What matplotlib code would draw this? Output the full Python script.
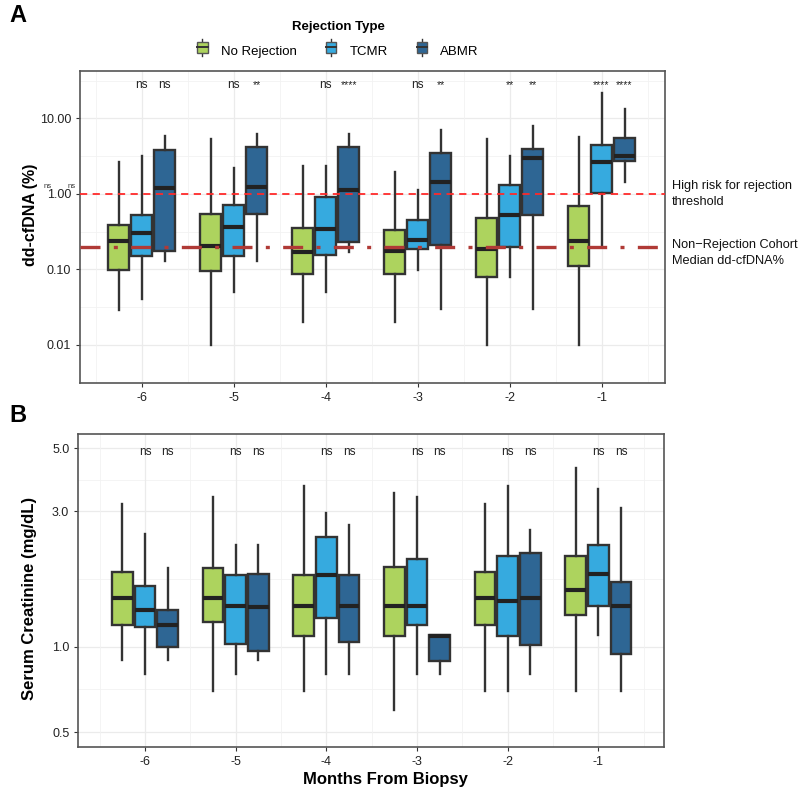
#!/usr/bin/env python
# dd-cfDNA and serum creatinine by month before biopsy, split by rejection type.
import numpy as np, matplotlib; matplotlib.use("Agg")
import matplotlib.pyplot as plt
from matplotlib.legend_handler import HandlerBase
from matplotlib.patches import Rectangle, Patch
from matplotlib.lines import Line2D

plt.rcParams["font.family"] = ["Liberation Sans", "DejaVu Sans"]

months = [-6, -5, -4, -3, -2, -1]
groups = ["No Rejection", "TCMR", "ABMR"]
colors = {"No Rejection": "#ADD35E", "TCMR": "#36AADF", "ABMR": "#2E6694"}

# (whisker low, q1, median, q3, whisker high) per month
cf_none = [(0.029, 0.097, 0.241, 0.384, 2.62), (0.010, 0.094, 0.202, 0.543, 5.35),
           (0.020, 0.088, 0.171, 0.355, 2.32), (0.020, 0.088, 0.177, 0.337, 1.93),
           (0.010, 0.079, 0.188, 0.485, 5.40), (0.010, 0.110, 0.236, 0.685, 5.69)]
cf_tcmr = [(0.040, 0.149, 0.304, 0.521, 3.22), (0.050, 0.149, 0.361, 0.706, 2.21),
           (0.050, 0.154, 0.344, 0.913, 2.32), (0.099, 0.188, 0.248, 0.457, 1.14),
           (0.080, 0.196, 0.527, 1.30, 3.15), (0.207, 1.03, 2.65, 4.50, 21.8)]
cf_abmr = [(0.131, 0.177, 1.20, 3.78, 5.92), (0.128, 0.543, 1.22, 4.14, 6.24),
           (0.169, 0.229, 1.14, 4.14, 6.24), (0.030, 0.209, 1.43, 3.49, 7.10),
           (0.030, 0.521, 3.00, 3.98, 7.85), (1.43, 2.70, 3.22, 5.52, 13.4)]
cf_sig_tcmr = ["ns", "ns", "ns", "ns", "**", "****"]
cf_sig_abmr = ["ns", "**", "****", "**", "**", "****"]

cr_none = [(0.90, 1.19, 1.49, 1.84, 3.18), (0.70, 1.22, 1.49, 1.89, 3.37),
           (0.70, 1.09, 1.39, 1.79, 3.68), (0.60, 1.09, 1.39, 1.91, 3.47),
           (0.70, 1.19, 1.49, 1.84, 3.17), (0.70, 1.29, 1.59, 2.09, 4.27)]
cr_tcmr = [(0.80, 1.17, 1.35, 1.64, 2.49), (0.80, 1.02, 1.39, 1.79, 2.28),
           (0.80, 1.265, 1.79, 2.44, 2.97), (0.80, 1.19, 1.39, 2.03, 3.37),
           (0.70, 1.09, 1.45, 2.09, 3.68), (1.10, 1.39, 1.80, 2.29, 3.58)]
cr_abmr = [(0.90, 1.00, 1.19, 1.35, 1.89), (0.90, 0.968, 1.38, 1.81, 2.28),
           (0.80, 1.04, 1.39, 1.79, 2.68), (0.80, 0.893, 1.09, 1.10, 1.10),
           (0.80, 1.01, 1.49, 2.14, 2.58), (0.70, 0.943, 1.39, 1.69, 3.09)]
cr_sig_tcmr = ["ns"] * 6
cr_sig_abmr = ["ns"] * 6

high_risk = 1.0
nonrej_median = 0.2

EDGE = "#333333"


class BoxKey(HandlerBase):
    def create_artists(self, legend, orig, xd, yd, w, h, fs, trans):
        cx = xd + w / 2
        r = Rectangle((xd, yd + h * 0.05), w, h * 0.9, facecolor=orig.get_facecolor(),
                      edgecolor="#555555", lw=1.0, transform=trans)
        mid = Line2D([xd, xd + w], [yd + h / 2] * 2, color="#333333", lw=1.4, transform=trans)
        up = Line2D([cx, cx], [yd + h * 0.95, yd + h * 1.2], color="#333333", lw=1.0, transform=trans)
        dn = Line2D([cx, cx], [yd - h * 0.2, yd + h * 0.05], color="#333333", lw=1.0, transform=trans)
        return [up, dn, r, mid]


def draw(ax, data, sig_t, sig_a, ylim, yticks, ylabels, sig_y):
    for k, (g, rows) in enumerate(zip(groups, data)):
        stats = [dict(whislo=r[0], q1=r[1], med=r[2], q3=r[3], whishi=r[4], fliers=[])
                 for r in rows]
        pos = [m + (k - 1) * 0.25 for m in months]
        ax.bxp(stats, positions=pos, widths=0.23, patch_artist=True, showcaps=False,
               boxprops=dict(facecolor=colors[g], edgecolor=EDGE, lw=1.7),
               whiskerprops=dict(color=EDGE, lw=1.7),
               medianprops=dict(color="#222222", lw=3.0, solid_capstyle="butt"),
               manage_ticks=False, zorder=3)
    for m, st, sa in zip(months, sig_t, sig_a):
        for off, s in ((0.0, st), (0.25, sa)):
            ax.text(m + off, sig_y, s, ha="center", va="center",
                    fontsize=8.5 if s == "ns" else 7.5, color="#222222")
    ax.set_yscale("log")
    ax.set_ylim(*ylim)
    ax.set_yticks(yticks)
    ax.set_yticklabels(ylabels)
    ax.minorticks_off()
    lo, hi = np.log10(ylim)
    majors = np.log10(yticks)
    allm = sorted(set(list(majors) + [np.floor(lo), np.ceil(hi)]))
    for a, b in zip(allm[:-1], allm[1:]):
        mv = (a + b) / 2
        if lo < mv < hi:
            ax.axhline(10 ** mv, color="#F2F2F2", lw=0.6, zorder=0)
    for yv in yticks:
        ax.axhline(yv, color="#EBEBEB", lw=0.9, zorder=0)
    for m in months:
        ax.axvline(m, color="#EBEBEB", lw=0.9, zorder=0)
        ax.axvline(m + 0.5, color="#F2F2F2", lw=0.6, zorder=0)
    ax.axvline(-6.5, color="#F2F2F2", lw=0.6, zorder=0)
    ax.set_xticks(months)
    ax.set_xticklabels([str(m) for m in months])
    ax.tick_params(labelsize=9, colors="#333333", length=3, width=0.8, labelcolor="#222222")
    for sp in ax.spines.values():
        sp.set_color("#555555"); sp.set_linewidth(1.2)


fig = plt.figure(figsize=(8, 7.88), dpi=100)
axA = fig.add_axes([0.1, 0.514, 0.73125, 0.3959])
axB = fig.add_axes([0.0979, 0.0524, 0.7321, 0.3964])

draw(axA, [cf_none, cf_tcmr, cf_abmr], cf_sig_tcmr, cf_sig_abmr,
     (0.00314, 42.4), [0.01, 0.1, 1, 10], ["0.01", "0.10", "1.00", "10.00"], 27.6)
axA.set_xlim(-6.67, -0.31)
axA.axhline(high_risk, color="#FF2A2A", lw=1.3, ls=(0, (4, 3)), zorder=4)
axA.axhline(nonrej_median, color="#B03A36", lw=2.4, ls=(0, (6, 4, 1.2, 4)), zorder=4)
axA.set_ylabel("dd-cfDNA (%)", fontsize=11.5, fontweight="bold", va="center")
axA.yaxis.set_label_coords(-0.0838, 0.54)

draw(axB, [cr_none, cr_tcmr, cr_abmr], cr_sig_tcmr, cr_sig_abmr,
     (0.444, 5.6), [0.5, 1.0, 3.0, 5.0], ["0.5", "1.0", "3.0", "5.0"], 4.86)
axB.set_xlim(-6.735, -0.276)
axB.set_ylabel("Serum Creatinine (mg/dL)", fontsize=12, fontweight="bold", va="center")
axB.yaxis.set_label_coords(-0.0833, 0.474)
axB.set_xlabel("Months From Biopsy", fontsize=12, fontweight="bold", va="center")
axB.xaxis.set_label_coords(0.5237, -0.1034)

fig.text(0.8396, 1 - 194 / 788, "High risk for rejection\nthreshold", fontsize=9.2,
         va="center", ha="left", color="#111111", linespacing=1.4)
fig.text(0.8396, 1 - 253 / 788, "Non\u2212Rejection Cohort\nMedian dd-cfDNA%", fontsize=9.2,
         va="center", ha="left", color="#111111", linespacing=1.4)
fig.text(48 / 800, 1 - 186 / 788, "ns", fontsize=5.5, ha="center", va="center", color="#333333")
fig.text(72 / 800, 1 - 186 / 788, "ns", fontsize=5.5, ha="center", va="center", color="#333333")

fig.text(0.012, 1 - 16 / 788, "A", fontsize=17, fontweight="bold", va="center")
fig.text(0.012, 1 - 415 / 788, "B", fontsize=17, fontweight="bold", va="center")

handles = [Patch(facecolor=colors[g], label=g) for g in groups]
leg = fig.legend(handles=handles, loc="upper center", bbox_to_anchor=(0.4225, 0.988), ncol=3,
                 title="Rejection Type", frameon=False, fontsize=9.5,
                 handler_map={Patch: BoxKey()}, handlelength=0.8, handleheight=1.05,
                 columnspacing=2.2, handletextpad=1.0)
leg.get_title().set_fontweight("bold")
leg.get_title().set_fontsize(9.5)
leg._legend_box.sep = 8

fig.savefig("out.png", dpi=100)
